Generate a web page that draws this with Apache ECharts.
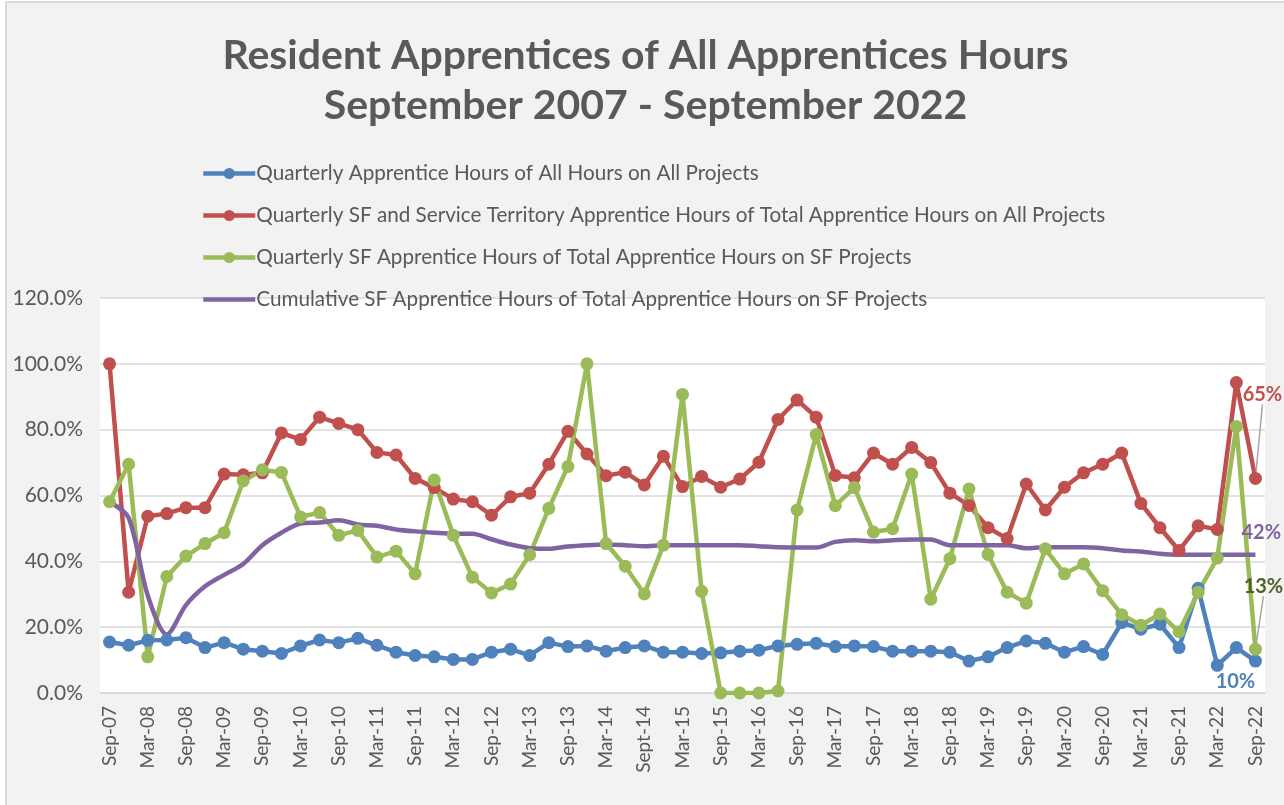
<!DOCTYPE html>
<html lang="en">
<head>
	<meta charset="UTF-8">
	<title>Resident Apprentices of All Apprentices Hours</title>
	<script src="https://cdn.jsdelivr.net/npm/echarts@6/dist/echarts.min.js"></script>
	<style>
		html, body { margin: 0; padding: 0; background: #ffffff; overflow: hidden; }
		#main {
			position: absolute; left: 5px; top: 1px;
			width: 1277px; height: 802px;
			border-left: 2px solid #d9d9d9; border-top: 2px solid #d9d9d9;
		}
	</style>
</head>
<body>
	<div id="main"></div>
	<script>
		// quarterly categories, Sep-07 .. Sep-22
		var quarters = [
			'Sep-07','Dec-07','Mar-08','Jun-08','Sep-08','Dec-08','Mar-09','Jun-09',
			'Sep-09','Dec-09','Mar-10','Jun-10','Sep-10','Dec-10','Mar-11','Jun-11',
			'Sep-11','Dec-11','Mar-12','Jun-12','Sep-12','Dec-12','Mar-13','Jun-13',
			'Sep-13','Dec-13','Mar-14','Jun-14','Sept-14','Dec-14','Mar-15','Jun-15',
			'Sep-15','Dec-15','Mar-16','Jun-16','Sep-16','Dec-16','Mar-17','Jun-17',
			'Sep-17','Dec-17','Mar-18','Jun-18','Sep-18','Dec-18','Mar-19','Jun-19',
			'Sep-19','Dec-19','Mar-20','Jun-20','Sep-20','Dec-20','Mar-21','Jun-21',
			'Sep-21','Dec-21','Mar-22','Jun-22','Sep-22'
		];

		var names = [
			'Quarterly Apprentice Hours of All Hours on All Projects',
			'Quarterly SF and Service Territory Apprentice Hours of Total Apprentice Hours on All Projects',
			'Quarterly SF Apprentice Hours of Total Apprentice Hours on SF Projects',
			'Cumulative SF Apprentice Hours of Total Apprentice Hours on SF Projects'
		];

		var allHours = [
			15.5,14.5,16.0,16.1,16.8,13.8,15.3,13.3,12.7,12.0,14.3,16.1,15.3,16.6,14.5,12.4,
			11.4,11.0,10.2,10.2,12.4,13.3,11.4,15.3,14.1,14.3,12.7,13.8,14.3,12.4,12.4,12.0,
			12.2,12.7,13.0,14.3,14.8,15.1,14.1,14.3,14.1,12.7,12.7,12.7,12.4,9.7,11.0,13.8,
			15.8,15.1,12.4,14.1,11.7,21.4,19.4,20.9,13.8,31.8,8.4,13.8,9.7
		];

		var sfTerritory = [
			100,30.6,53.7,54.5,56.3,56.3,66.5,66.3,66.9,79.0,77.0,83.8,81.9,80.0,73.1,72.3,
			65.2,62.4,58.9,58.1,54.0,59.6,60.7,69.5,79.5,72.6,66.0,67.1,63.2,71.9,62.7,65.8,
			62.5,65.0,70.1,83.1,89.0,83.8,66.1,65.4,72.9,69.5,74.6,70.0,60.7,57.0,50.2,46.9,
			63.5,55.6,62.5,66.9,69.5,72.9,57.6,50.2,43.3,50.8,49.7,94.3,65.2
		];

		var sfProjects = [
			58.1,69.5,11.0,35.4,41.6,45.4,48.7,64.4,67.8,67.0,53.5,54.8,47.9,49.4,41.3,43.1,
			36.2,64.7,47.9,35.2,30.4,33.1,42.0,56.1,68.8,100,45.4,38.5,30.1,44.9,90.7,30.9,
			0,0,0,0.6,55.6,78.5,56.9,62.4,48.9,49.9,66.5,28.5,40.8,62.0,42.1,30.6,
			27.3,43.8,36.2,39.2,31.1,23.8,20.6,24.0,18.6,30.6,41.0,81.0,13.3
		];

		var cumulative = [
			58.1,53.2,29.6,17.8,26.7,32.4,35.9,39.2,44.9,48.7,51.5,51.8,52.5,51.2,50.8,49.7,
			49.1,48.7,48.4,48.4,46.7,45.1,44.0,43.8,44.5,44.9,45.1,44.9,44.6,44.9,44.9,44.9,
			44.9,44.9,44.6,44.3,44.2,44.2,45.9,46.4,46.1,46.4,46.6,46.6,44.9,44.9,44.9,44.9,
			44.0,44.3,44.3,44.3,44.0,43.3,43.0,42.3,42.0,42.0,42.0,42.0,42.0
		];

		var colors = ['#4f81bd', '#c0504d', '#9bbb59', '#8064a2'];
		var yTicks = [0, 20, 40, 60, 80, 100, 120];

		var txt = '#595959';
		var font = 'Lato, "Open Sans", sans-serif';

		function pct(p) { return Math.round(p.value) + '%'; }

		// show a label only on the last point
		function lastLabel(arr, labelColor) {
			return arr.map(function (v, i) {
				if (i !== arr.length - 1) return v;
				return {
					value: v,
					label: {
						show: true,
						position: 'inside',
						color: labelColor,
						fontWeight: 'bold',
						fontSize: 20,
						fontFamily: font,
						formatter: pct
					}
				};
			});
		}

		function guide(show) {
			return { show: show, lineStyle: { color: '#a6a6a6', width: 1.5 } };
		}

		var myChart = echarts.init(document.getElementById('main'));

		myChart.setOption({
			backgroundColor: '#f2f2f2',
			color: colors,
			animation: false,
			title: {
				text: 'Resident Apprentices of All Apprentices Hours\nSeptember 2007 - September 2022',
				left: 'center',
				top: 23,
				textStyle: {
					color: txt,
					fontFamily: font,
					fontWeight: 'bold',
					fontSize: 41,
					lineHeight: 50
				}
			},
			legend: {
				orient: 'vertical',
				left: 189,
				top: 155,
				itemWidth: 52,
				itemHeight: 14,
				itemGap: 21,
				lineStyle: { width: 4.5 },
				textStyle: { color: txt, fontFamily: font, fontSize: 20.7, padding: [0, 0, 0, -4] },
				data: [
					names[0], names[1], names[2],
					// plain bar for the cumulative line (no marker)
					{ name: names[3], icon: 'path://M0,0M0,14M0,4.75L52,4.75L52,9.25L0,9.25Z' }
				]
			},
			grid: {
				left: 93,
				right: 19,
				top: 295,
				bottom: 112,
				show: true,
				backgroundColor: '#ffffff',
				borderWidth: 0
			},
			xAxis: {
				type: 'category',
				data: quarters,
				boundaryGap: true,
				axisTick: { show: false },
				axisLine: { lineStyle: { color: '#d9d9d9', width: 1.5 } },
				axisLabel: {
					interval: 1,
					rotate: 90,
					color: txt,
					fontFamily: font,
					fontSize: 19,
					margin: 13
				}
			},
			yAxis: {
				type: 'value',
				min: yTicks[0],
				max: yTicks[yTicks.length - 1],
				interval: 20,
				axisLine: { show: false },
				axisTick: { show: false },
				splitLine: { lineStyle: { color: '#d9d9d9', width: 1.5 } },
				axisLabel: {
					color: txt,
					fontFamily: font,
					fontSize: 21,
					margin: 17,
					formatter: function (v) { return v.toFixed(1) + '%'; }
				}
			},
			series: [
				{
					name: names[0],
					type: 'line',
					data: lastLabel(allHours, '#4f81bd'),
					symbol: 'circle',
					symbolSize: 13,
					showAllSymbol: true,
					lineStyle: { width: 4.5 },
					labelLayout: { dx: -20, dy: 20 },
					labelLine: guide(false)
				},
				{
					name: names[1],
					type: 'line',
					data: lastLabel(sfTerritory, '#c0504d'),
					symbol: 'circle',
					symbolSize: 13,
					showAllSymbol: true,
					lineStyle: { width: 4.5 },
					labelLayout: { dx: 7, dy: -84 },
					labelLine: guide(true)
				},
				{
					name: names[2],
					type: 'line',
					data: lastLabel(sfProjects, '#4f6228'),
					symbol: 'circle',
					symbolSize: 13,
					showAllSymbol: true,
					lineStyle: { width: 4.5 },
					labelLayout: { dx: 8, dy: -63 },
					labelLine: guide(true)
				},
				{
					name: names[3],
					type: 'line',
					data: cumulative,
					symbol: 'none',
					smooth: 0.3,
					lineStyle: { width: 4.5 },
					endLabel: {
						show: true,
						color: '#8064a2',
						fontWeight: 'bold',
						fontSize: 20,
						fontFamily: font,
						distance: 0,
						offset: [-14, -22],
						formatter: pct
					}
				}
			]
		});
	</script>
</body>
</html>
